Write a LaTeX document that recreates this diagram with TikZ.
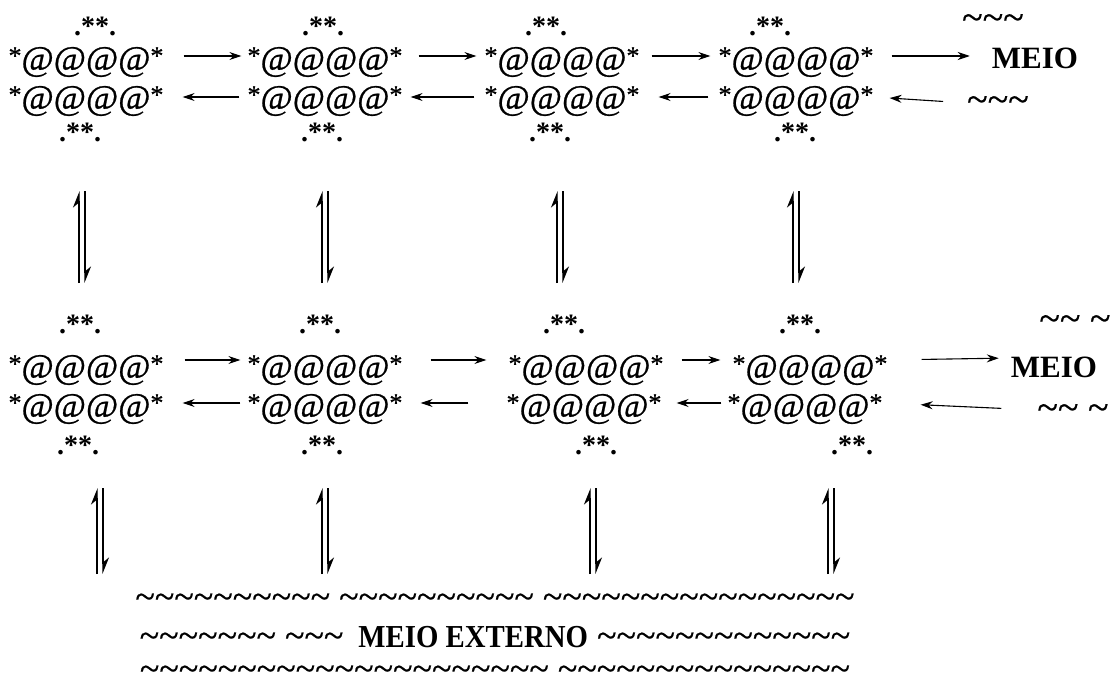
\documentclass[tikz,border=0pt]{standalone}
\usepackage{fontspec}
\setmainfont{Liberation Serif}
\newfontfamily\molfont[FakeBold=0.7]{Liberation Serif}
\newfontfamily\tilfont[FakeBold=0.5]{Liberation Serif}
\usetikzlibrary{arrows.meta}
\newcommand\tilderow[1]{\foreach\ii in {1,...,#1}{\textasciitilde}}
\newcommand\stx{\raisebox{6pt}{\fontsize{26}{26}\selectfont *}}
\newcommand\molline{\stx@@@@\stx}
\begin{document}
\begin{tikzpicture}[x=1pt,y=-1pt,
  mol/.style={inner sep=0pt,font=\molfont\fontsize{35}{35}\selectfont},
  grp/.style={inner sep=0pt,anchor=base,font=\fontsize{28}{28}\selectfont\bfseries},
  meio/.style={inner sep=0pt,font=\fontsize{31}{31}\selectfont\bfseries},
  tils/.style={inner sep=0pt,font=\tilfont\fontsize{36}{36}\selectfont},
  tilr/.style={inner sep=0pt,font=\tilfont\fontsize{38}{38}\selectfont},
  arr/.style={-{Stealth[length=12pt,width=8pt]},line width=1.1pt},
  harp/.style={-{Stealth[harpoon,length=15pt,width=12pt]},line width=1.2pt}]
\useasboundingbox (0,0) rectangle (1114,693);

% ---- row 1 molecules
\node[mol] (a11) at (86,62) {\molline};
\node[mol] (b11) at (86,101) {\molline};
\node[mol] (a12) at (325,62) {\molline};
\node[mol] (b12) at (325,101) {\molline};
\node[mol] (a13) at (562,62) {\molline};
\node[mol] (b13) at (562,101) {\molline};
\node[mol] (a14) at (796,62) {\molline};
\node[mol] (b14) at (796,101) {\molline};
\node[grp] (t11) at (95,36) {.**.};
\node[grp] (d11) at (80,141) {.**.};
\node[grp] (t12) at (323,36) {.**.};
\node[grp] (d12) at (322,141) {.**.};
\node[grp] (t13) at (546,36) {.**.};
\node[grp] (d13) at (550,141) {.**.};
\node[grp] (t14) at (770,36) {.**.};
\node[grp] (d14) at (795,141) {.**.};
\node[tilr] (u1) at (993,22) {\tilderow{3}};
\node[meio] (m1) at (1035,58) {MEIO};
\node[tilr] (w1) at (998,104) {\tilderow{3}};

% ---- row 2 molecules
\node[mol] (a21) at (86,370) {\molline};
\node[mol] (b21) at (86,409) {\molline};
\node[mol] (a22) at (325,370) {\molline};
\node[mol] (b22) at (325,409) {\molline};
\node[mol] (a23) at (586,370) {\molline};
\node[mol] (b23) at (584,409) {\molline};
\node[mol] (a24) at (810,370) {\molline};
\node[mol] (b24) at (805,409) {\molline};
\node[grp] (t21) at (80,333) {.**.};
\node[grp] (d21) at (78,454) {.**.};
\node[grp] (t22) at (320,333) {.**.};
\node[grp] (d22) at (322,454) {.**.};
\node[grp] (t23) at (564,333) {.**.};
\node[grp] (d23) at (596,454) {.**.};
\node[grp] (t24) at (800,333) {.**.};
\node[grp] (d24) at (852,454) {.**.};
\node[tilr] (u2) at (1075,323) {\tilderow{2} \textasciitilde};
\node[meio] (m2) at (1054,367) {MEIO};
\node[tilr] (w2) at (1073,412) {\tilderow{2} \textasciitilde};

% ---- external medium
\node[tils] (e1) at (495,601) {\tilderow{10} \tilderow{10} \tilderow{16}};
\node[tils] (e2) at (495,637) {\tilderow{7} \tilderow{3}\hspace{6pt} {\rmfamily\fontsize{32}{32}\selectfont\bfseries\scalebox{0.9}[1]{MEIO EXTERNO}} \tilderow{13}};
\node[tils] (e3) at (495,673) {\tilderow{21} \tilderow{15}};

% ---- horizontal arrows, row 1
\draw[arr,shorten <=20pt,shorten >=6pt] ([yshift=6pt]a11.east) -- ([yshift=6pt]a12.west);
\draw[arr,shorten <=16pt,shorten >=8pt] ([yshift=6pt]a12.east) -- ([yshift=6pt]a13.west);
\draw[arr,shorten <=12pt,shorten >=8pt] ([yshift=6pt]a13.east) -- ([yshift=6pt]a14.west);
\draw[arr,shorten <=18pt,shorten >=22pt] ([yshift=6pt]a14.east) -- ([yshift=2pt]m1.west);
\draw[arr,shorten <=8pt,shorten >=19pt] ([yshift=4pt]b12.west) -- ([yshift=4pt]b11.east);
\draw[arr,shorten <=10pt,shorten >=8pt] ([yshift=4pt]b13.west) -- ([yshift=4pt]b12.east);
\draw[arr,shorten <=10pt,shorten >=19pt] ([yshift=4pt]b14.west) -- ([yshift=4pt]b13.east);
\draw[arr,shorten <=24pt,shorten >=16pt] ([yshift=1pt]w1.west) -- ([yshift=4pt]b14.east);

% ---- horizontal arrows, row 2
\draw[arr,shorten <=21pt,shorten >=7pt] ([yshift=10pt]a21.east) -- ([yshift=10pt]a22.west);
\draw[arr,shorten <=28pt,shorten >=22pt] ([yshift=10pt]a22.east) -- ([yshift=10pt]a23.west);
\draw[arr,shorten <=18pt,shorten >=12pt] ([yshift=10pt]a23.east) -- ([yshift=10pt]a24.west);
\draw[arr,shorten <=34pt,shorten >=12pt] ([yshift=10pt]a24.east) -- ([yshift=9pt]m2.west);
\draw[arr,shorten <=7pt,shorten >=19pt] ([yshift=6pt]b22.west) -- ([yshift=6pt]b21.east);
\draw[arr,shorten <=38pt,shorten >=18pt] ([yshift=6pt]b23.west) -- ([yshift=6pt]b22.east);
\draw[arr,shorten <=6pt,shorten >=15pt] ([yshift=6pt]b24.west) -- ([yshift=6pt]b23.east);
\draw[arr,shorten <=36pt,shorten >=38pt] ([yshift=2pt]w2.west) -- ([yshift=6pt]b24.east);

% ---- vertical harpoons
\foreach \nm/\x/\ya/\yb in {h11/79/191/283, h12/322/191/283, h13/557/191/283, h14/793/191/283,
                            h21/97/488/574, h22/322/488/574, h23/590/488/574, h24/828/488/574}{
  \coordinate (\nm t) at (\x,\ya);
  \coordinate (\nm b) at (\x,\yb);
}
\foreach \nm in {h11,h12,h13,h14,h21,h22,h23,h24}{
  \draw[harp] (\nm b) -- (\nm t);
  \draw[harp] ([xshift=6pt]\nm t) -- ([xshift=6pt]\nm b);
}
\end{tikzpicture}
\end{document}
